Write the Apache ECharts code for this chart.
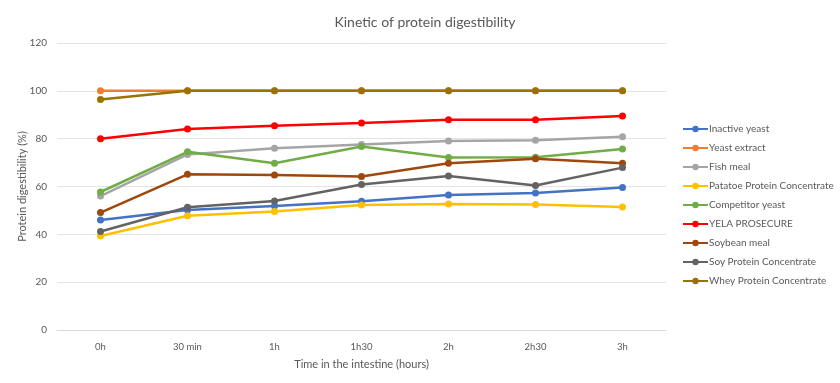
<!DOCTYPE html>
<html><head><meta charset="utf-8">
<script src="https://cdn.jsdelivr.net/npm/echarts@6/dist/echarts.min.js"></script>
<style>html,body{margin:0;padding:0;background:#fff}#c{width:840px;height:383px}</style>
</head><body><div id="c"></div>
<script>
const categories = ['0h','30 min','1h','1h30','2h','2h30','3h'];
const seriesNames = ['Inactive yeast','Yeast extract','Fish meal','Patatoe Protein Concentrate','Competitor yeast','YELA PROSECURE','Soybean meal','Soy Protein Concentrate','Whey Protein Concentrate'];
const inactiveYeast = [46.0, 50.2, 51.8, 53.8, 56.4, 57.3, 59.6];
const yeastExtract = [100, 100, 100, 100, 100, 100, 100];
const fishMeal = [56.0, 73.4, 76.0, 77.6, 79.0, 79.3, 80.8];
const patatoe = [39.3, 47.8, 49.5, 52.3, 52.7, 52.5, 51.4];
const competitor = [57.7, 74.5, 69.7, 76.7, 72.1, 72.2, 75.7];
const yela = [80.0, 84.0, 85.4, 86.5, 87.9, 87.9, 89.5];
const soybean = [49.1, 65.1, 64.8, 64.2, 69.7, 71.6, 69.7];
const soyProtein = [41.2, 51.3, 53.9, 60.8, 64.4, 60.4, 67.9];
const whey = [96.4, 100, 100, 100, 100, 100, 100];
const colors = ['#4472C4','#ED7D31','#A5A5A5','#FFC000','#70AD47','#FF0000','#9E480E','#636363','#997300'];
const allData = [inactiveYeast, yeastExtract, fishMeal, patatoe, competitor, yela, soybean, soyProtein, whey];
const font = 'Lato, "Open Sans", sans-serif';
const chart = echarts.init(document.getElementById('c'), null, {renderer:'canvas'});
chart.setOption({
  animation: false,
  color: colors,
  textStyle: {fontFamily: font},
  title: {text: 'Kinetic of protein digestibility', left: 420, textAlign: 'center', top: 10,
    textStyle: {fontSize: 14, fontWeight: 'normal', color: '#595959', fontFamily: font}},
  grid: {left: 57, right: 174, top: 43, bottom: 53},
  legend: {orient: 'vertical', left: 682, top: 124, padding: 0, itemWidth: 25, itemHeight: 8, itemGap: 9,
    textStyle: {fontSize: 10, color: '#595959', fontFamily: font, padding: [0,0,0,-4]},
    data: seriesNames},
  xAxis: {type: 'category', data: categories, boundaryGap: true,
    name: 'Time in the intestine (hours)', nameLocation: 'middle', nameGap: 29, nameMoveOverlap: false,
    nameTextStyle: {fontSize: 11, color: '#595959'},
    axisLine: {lineStyle: {color: '#d9d9d9'}}, axisTick: {show: false},
    axisLabel: {fontSize: 9.5, color: '#595959', margin: 12}},
  yAxis: {type: 'value', min: 0, max: 120, interval: 20,
    name: 'Protein digestibility (%)', nameLocation: 'middle', nameGap: 29, nameMoveOverlap: false,
    nameTextStyle: {fontSize: 11, color: '#595959'},
    axisLabel: {fontSize: 10, color: '#595959', margin: 10},
    splitLine: {lineStyle: {color: '#e3e3e3'}}},
  series: seriesNames.map((n, i) => ({
    name: n, type: 'line', data: allData[i], symbol: 'circle', symbolSize: 7,
    lineStyle: {width: 2.5, color: colors[i]}, itemStyle: {color: colors[i]}
  }))
});
</script></body></html>
